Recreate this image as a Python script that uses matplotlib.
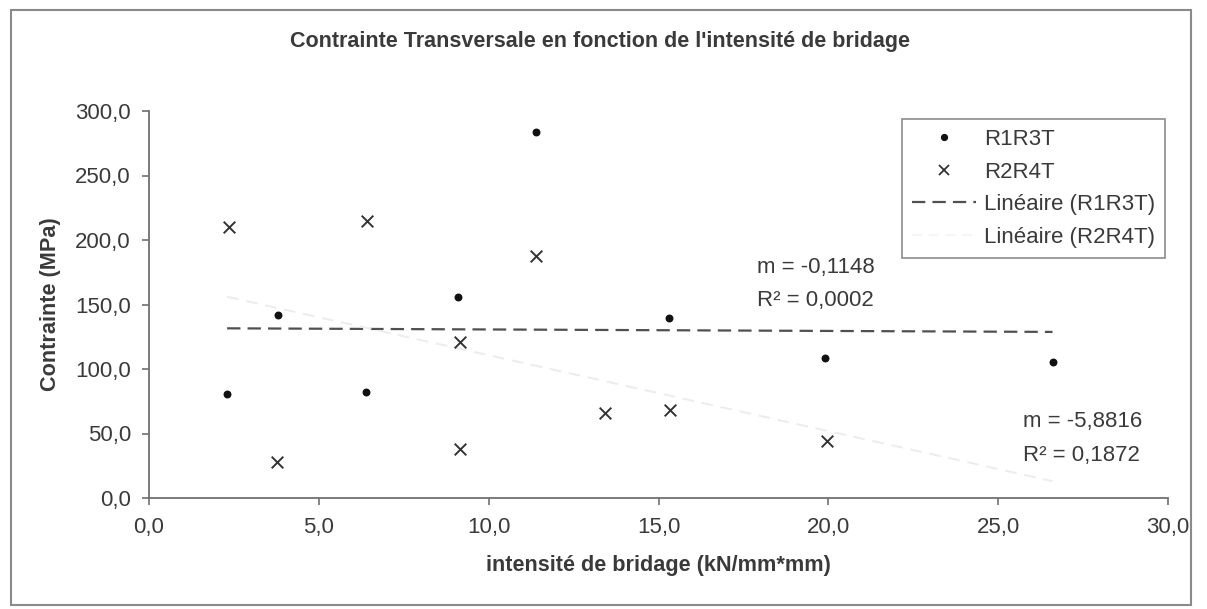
import matplotlib.pyplot as plt
from matplotlib.ticker import FuncFormatter, MultipleLocator
from matplotlib.patches import Rectangle

plt.rcParams['font.family'] = ['Liberation Sans', 'DejaVu Sans']

# données
r1r3t_x = [2.3, 3.8, 6.4, 9.1, 11.4, 15.3, 19.9, 26.6]
r1r3t_y = [80.6, 141.6, 82.2, 155.8, 283.7, 139.8, 108.3, 105.7]

r2r4t_x = [2.35, 3.77, 6.41, 9.15, 9.15, 11.38, 13.42, 15.34, 19.96]
r2r4t_y = [210.3, 28.1, 214.5, 120.7, 37.7, 187.6, 66.1, 68.2, 44.2]

# courbes de tendance (pente affichée, ordonnée lue)
trend_x = [2.3, 26.6]
trend_r1 = (-0.1148, 131.8)
trend_r2 = (-5.8816, 169.5)

W, H = 1207, 609
txt_col = '#3a3a3a'

def fx(px):
    return px / W

def fy(py):
    return 1 - py / H

fig = plt.figure(figsize=(W / 100, H / 100), dpi=100)
ax = fig.add_axes([fx(149), fy(498), fx(1168 - 149), (498 - 111) / H])

ax.scatter(r1r3t_x, r1r3t_y, s=22, marker='o', color='#111111', zorder=3)
ax.scatter(r2r4t_x, r2r4t_y, s=70, marker='x', color='#333333', linewidths=1.4, zorder=3)

y1 = [trend_r1[0] * x + trend_r1[1] for x in trend_x]
y2 = [trend_r2[0] * x + trend_r2[1] for x in trend_x]
l1, = ax.plot(trend_x, y1, color='#505050', lw=1.6, dashes=(6, 3.2))
l2, = ax.plot(trend_x, y2, color='#ececec', lw=1.4, dashes=(6, 4))

ax.set_xlim(0, 30)
ax.set_ylim(0, 300)
ax.xaxis.set_major_locator(MultipleLocator(5))
ax.yaxis.set_major_locator(MultipleLocator(50))
fmt = FuncFormatter(lambda v, p: f'{v:.1f}'.replace('.', ','))
ax.xaxis.set_major_formatter(fmt)
ax.yaxis.set_major_formatter(fmt)

for s in ['top', 'right']:
    ax.spines[s].set_visible(False)
for s in ['left', 'bottom']:
    ax.spines[s].set_color('#707070')
    ax.spines[s].set_linewidth(1.3)
ax.tick_params(axis='both', colors='#707070', labelcolor=txt_col, labelsize=16, length=5, width=1.2)
ax.tick_params(axis='x', pad=9)
ax.tick_params(axis='y', pad=8)

ax.set_xlabel('intensité de bridage (kN/mm*mm)', fontsize=15.6, fontweight='bold', color=txt_col, labelpad=12)
ax.set_ylabel('Contrainte (MPa)', fontsize=15.6, fontweight='bold', color=txt_col, labelpad=10)

fig.text(fx(600), fy(42), "Contrainte Transversale en fonction de l'intensité de bridage",
         ha='center', va='center', fontsize=15.5, fontweight='bold', color=txt_col)

fig.text(fx(757), fy(267), 'm = -0,1148', ha='left', va='center', fontsize=16, color=txt_col)
fig.text(fx(757), fy(300), 'R² = 0,0002', ha='left', va='center', fontsize=16, color=txt_col)
fig.text(fx(1023), fy(422), 'm = -5,8816', ha='left', va='center', fontsize=16, color=txt_col)
fig.text(fx(1023), fy(455), 'R² = 0,1872', ha='left', va='center', fontsize=16, color=txt_col)

h1 = plt.Line2D([], [], ls='none', marker='o', ms=4.2, color='#111111')
h2 = plt.Line2D([], [], ls='none', marker='x', ms=7, mew=1.3, color='#333333')
h4 = plt.Line2D([], [], color='#f4f4f4', lw=1.2, dashes=(6, 4))
leg = ax.legend([h1, h2, l1, h4],
                ['R1R3T', 'R2R4T', 'Linéaire (R1R3T)', 'Linéaire (R2R4T)'],
                loc='upper left', bbox_to_anchor=(fx(902), fy(119)), bbox_transform=fig.transFigure,
                fontsize=16, frameon=True, fancybox=False, borderpad=0.45,
                labelspacing=0.52, handlelength=2.9, handletextpad=0.35, borderaxespad=0)
leg.get_frame().set_edgecolor('#707070')
leg.get_frame().set_linewidth(1.2)
for t in leg.get_texts():
    t.set_color(txt_col)

fig.patches.append(Rectangle((fx(11), fy(605)), fx(1191 - 11), (605 - 10) / H,
                             transform=fig.transFigure, fill=False, edgecolor='#8a8a8a', lw=1.5))

fig.savefig('out.png', dpi=100)
